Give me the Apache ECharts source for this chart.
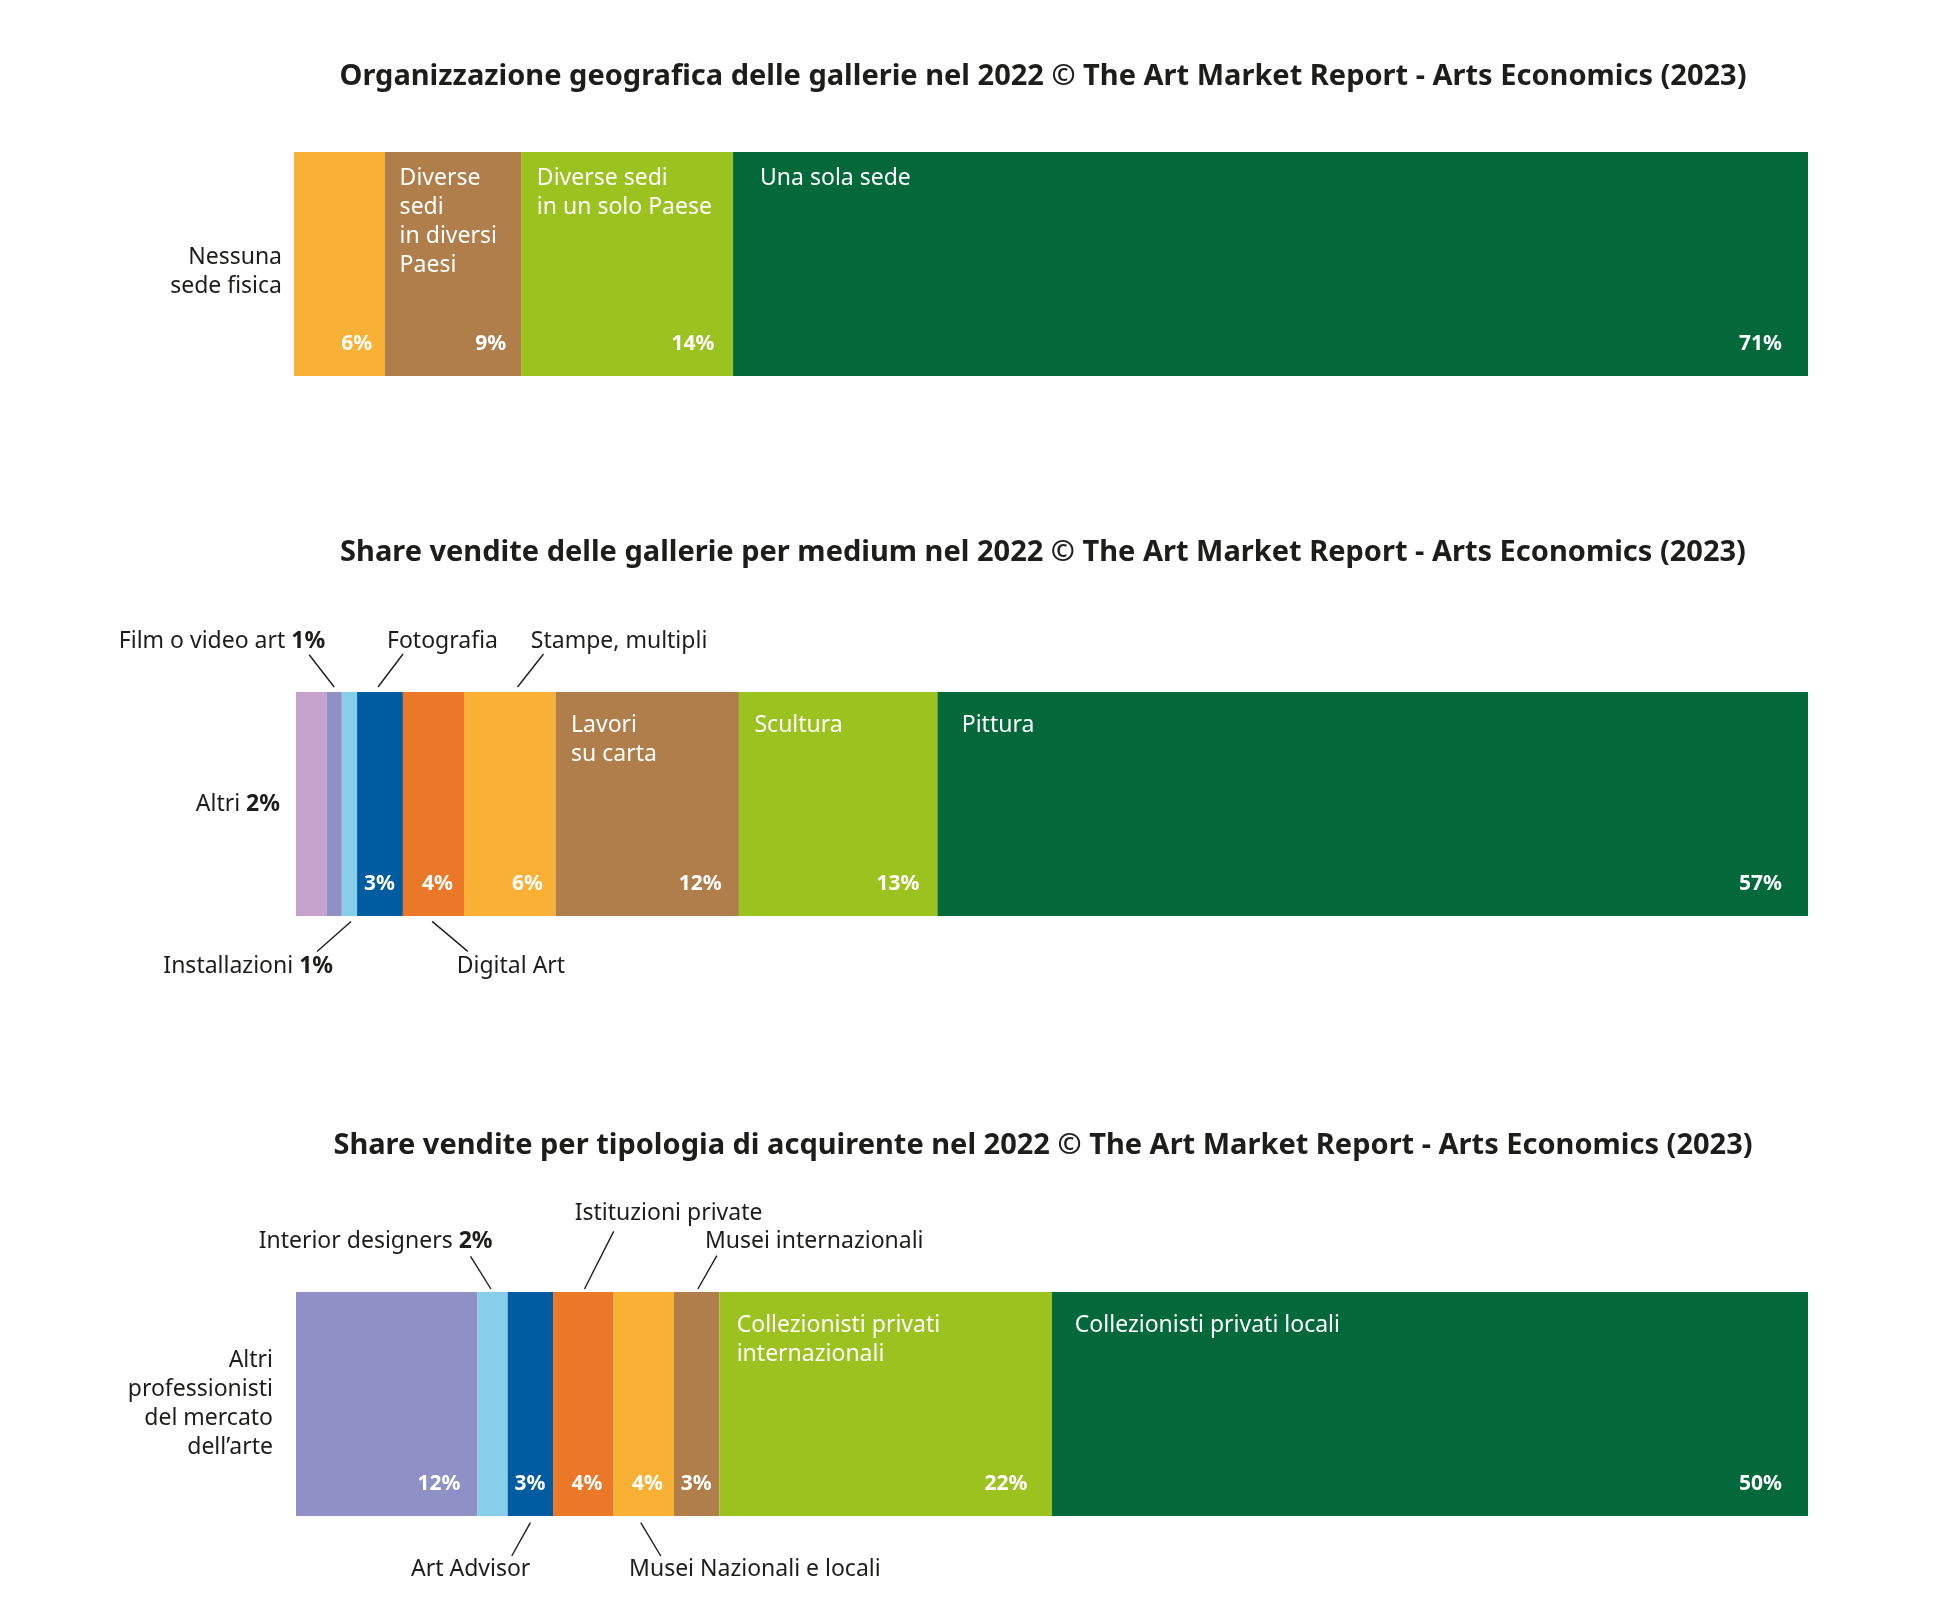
<!DOCTYPE html>
<html><head><meta charset="utf-8">
<script src="https://cdn.jsdelivr.net/npm/echarts@6/dist/echarts.min.js"></script>
<style>html,body{margin:0;padding:0;background:#fff}#c{width:1944px;height:1624px}</style>
</head><body><div id="c"></div>
<script>
// ---------------- DATA ----------------
const chartTitles = [
  'Organizzazione geografica delle gallerie nel 2022 © The Art Market Report - Arts Economics (2023)',
  'Share vendite delle gallerie per medium nel 2022 © The Art Market Report - Arts Economics (2023)',
  'Share vendite per tipologia di acquirente nel 2022 © The Art Market Report - Arts Economics (2023)'
];
const geoCategories = ['Nessuna\nsede fisica', 'Diverse\nsedi\nin diversi\nPaesi', 'Diverse sedi\nin un solo Paese', 'Una sola sede'];
const geoValues = [6, 9, 14, 71];

const mediumCategories = ['Altri', 'Film o video art', 'Installazioni', 'Fotografia', 'Digital Art', 'Stampe, multipli', 'Lavori\nsu carta', 'Scultura', 'Pittura'];
const mediumValues = [2, 1, 1, 3, 4, 6, 12, 13, 57];

const buyerCategories = ['Altri\nprofessionisti\ndel mercato\ndell’arte', 'Interior designers', 'Art Advisor', 'Istituzioni private', 'Musei Nazionali e locali', 'Musei internazionali', 'Collezionisti privati\ninternazionali', 'Collezionisti privati locali'];
const buyerValues = [12, 2, 3, 4, 4, 3, 22, 50];

// ---------------- STYLE ----------------
const FONT = '"Noto Sans", sans-serif';
const NAME_SIZE = 23;
const DARK = '#1d1d1b';
const YEL = '#F8B135', BROWN = '#B07E4B', LIME = '#9CC21F', GREEN = '#03693A',
      BLUE = '#005CA1', ORANGE = '#EB7828', LBLUE = '#88CEEB', LILAC = '#C4A3CD', PERI = '#8E90C6';

const geoColors = [YEL, BROWN, LIME, GREEN];
const mediumColors = [LILAC, PERI, LBLUE, BLUE, ORANGE, YEL, BROWN, LIME, GREEN];
const buyerColors = [PERI, LBLUE, BLUE, ORANGE, YEL, BROWN, LIME, GREEN];

const geoLayout = [
  {mode: 'left', gap: 12, dy: 8, valIn: true},
  {mode: 'in', valIn: true}, {mode: 'in', valIn: true}, {mode: 'in', valIn: true}
];
const mediumLayout = [
  {mode: 'left', gap: 16, dy: 0, valIn: false, valName: true},
  {mode: 'top', dx: -9, dy: -50.6, align: 'right', valIn: false, valName: true, line: [0, -5, -25, -37.3]},
  {mode: 'bottom', dx: -16.4, dy: 50.4, align: 'right', valIn: false, valName: true, line: [1.6, 5.4, -32.4, 35.4]},
  {mode: 'top', dx: 7, dy: -50.6, align: 'left', valIn: true, line: [-2, -5, 23, -38]},
  {mode: 'bottom', dx: 23.3, dy: 50.4, align: 'left', valIn: true, line: [-1.3, 5.4, 34.3, 35.4]},
  {mode: 'top', dx: 21, dy: -50.6, align: 'left', valIn: true, line: [7.7, -5, 33.7, -38]},
  {mode: 'in', valIn: true}, {mode: 'in', valIn: true}, {mode: 'in', valIn: true}
];
const buyerLayout = [
  {mode: 'left', gap: 23, dy: 0, valIn: true},
  {mode: 'top', dx: 0, dy: -50.6, align: 'right', valIn: false, valName: true, line: [-1.6, -3, -22, -35.6]},
  {mode: 'bottom', dx: 0, dy: 53.3, align: 'right', valIn: true, line: [0, 6.6, -18.6, 40]},
  {mode: 'top', dx: -8.6, dy: -79, align: 'left', valIn: true, line: [1.2, -3, 30.4, -60.6]},
  {mode: 'bottom', dx: -14.7, dy: 53.3, align: 'left', valIn: true, line: [-3, 6.6, 17, 40]},
  {mode: 'top', dx: 8.2, dy: -50.6, align: 'left', valIn: true, line: [1.2, -3, 20.2, -36.3]},
  {mode: 'in', valIn: true}, {mode: 'in', valIn: true}
];

const GRID_RIGHT_X = 1808, BAR_H = 224;
const panels = [
  {cats: geoCategories, vals: geoValues, colors: geoColors, layout: geoLayout, left: 294, top: 152, titleY: 76.7, padTop: 12},
  {cats: mediumCategories, vals: mediumValues, colors: mediumColors, layout: mediumLayout, left: 296, top: 692, titleY: 553, padTop: 18.5},
  {cats: buyerCategories, vals: buyerValues, colors: buyerColors, layout: buyerLayout, left: 296, top: 1292, titleY: 1145.6, padTop: 18.5}
];

const grids = [], xAxes = [], yAxes = [], series = [];
panels.forEach((p, k) => {
  const total = p.vals.reduce((a, b) => a + b, 0);
  const gw = GRID_RIGHT_X - p.left;
  const pxPer = gw / total;
  grids.push({left: p.left, width: gw, top: p.top, height: BAR_H, containLabel: false});
  xAxes.push({type: 'value', gridIndex: k, min: 0, max: total, show: false});
  yAxes.push({type: 'category', gridIndex: k, data: [''], show: false});
  p.vals.forEach((v, i) => {
    const sp = p.layout[i];
    const w = v * pxPer;
    const txt = v + '%';
    const tw = String(v).length * 12 + 18;
    const padR = Math.min((w - tw) / 2, 8 + 0.05 * w, 26);
    series.push({
      type: 'bar', xAxisIndex: k, yAxisIndex: k, stack: 'v' + k, barWidth: BAR_H, barGap: '-100%',
      data: [v], itemStyle: {color: p.colors[i]}, silent: true,
      label: {
        show: !!sp.valIn, position: ['100%', '100%'], align: 'right', verticalAlign: 'bottom',
        offset: [-padR, -21], formatter: txt, color: '#fff', fontWeight: 'bold',
        fontSize: 21, lineHeight: 22, fontFamily: FONT
      }
    });
    const name = p.cats[i];
    let label;
    const rich = {b: {fontWeight: 'bold', fontSize: NAME_SIZE, fontFamily: FONT, color: DARK}};
    const fmt = sp.valName ? name + ' {b|' + txt + '}' : name;
    if (sp.mode === 'in') {
      const padX = Math.min(13 + 0.013 * w, 28);
      label = {position: [0, 0], align: 'left', verticalAlign: 'top', offset: [padX, p.padTop],
               color: '#fff', lineHeight: 29};
    } else if (sp.mode === 'left') {
      label = {position: [0, '50%'], align: 'right', verticalAlign: 'middle', offset: [-sp.gap, sp.dy],
               color: DARK, lineHeight: 29};
    } else if (sp.mode === 'top') {
      label = {position: ['50%', 0], align: sp.align, verticalAlign: 'middle', offset: [sp.dx, sp.dy],
               color: DARK, lineHeight: 29};
    } else {
      label = {position: ['50%', '100%'], align: sp.align, verticalAlign: 'middle', offset: [sp.dx, sp.dy],
               color: DARK, lineHeight: 29};
    }
    Object.assign(label, {show: true, formatter: fmt, fontSize: NAME_SIZE, fontFamily: FONT, rich: rich});
    series.push({
      type: 'bar', xAxisIndex: k, yAxisIndex: k, stack: 'n' + k, barWidth: BAR_H, barGap: '-100%',
      data: [v], itemStyle: {color: 'rgba(0,0,0,0)'}, silent: true, label: label
    });
  });
});

function titleGraphics() {
  return panels.map((p, k) => ({
    type: 'text', x: 1043, y: p.titleY, silent: true,
    style: {text: chartTitles[k], fill: DARK, font: 'bold 29px ' + FONT,
            align: 'center', verticalAlign: 'middle', textAlign: 'center', textVerticalAlign: 'middle'}
  }));
}

const chart = echarts.init(document.getElementById('c'), null, {renderer: 'canvas'});
chart.setOption({
  animation: false,
  backgroundColor: '#ffffff',
  textStyle: {fontFamily: FONT},
  grid: grids, xAxis: xAxes, yAxis: yAxes, series: series,
  graphic: titleGraphics()
});

// leader lines for callouts, positioned via the axis scale
const g = titleGraphics();
panels.forEach((p, k) => {
  let cum = 0;
  p.vals.forEach((v, i) => {
    const sp = p.layout[i];
    const x0 = chart.convertToPixel({xAxisIndex: k}, cum);
    const x1 = chart.convertToPixel({xAxisIndex: k}, cum + v);
    cum += v;
    if (sp.line) {
      const cx = (x0 + x1) / 2;
      const edge = sp.mode === 'top' ? p.top : p.top + BAR_H;
      const l = sp.line;
      g.push({type: 'line', silent: true,
        shape: {x1: cx + l[0], y1: edge + l[1], x2: cx + l[2], y2: edge + l[3]},
        style: {stroke: DARK, lineWidth: 1.4}});
    }
  });
});
chart.setOption({graphic: g}, {replaceMerge: ['graphic']});
</script>
</body></html>
